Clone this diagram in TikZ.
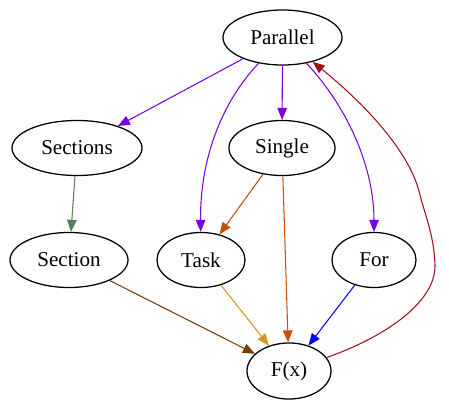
\documentclass[tikz,border=0pt]{standalone}
\usepackage{fontspec}
\setmainfont{Liberation Serif}
\usetikzlibrary{arrows.meta,shapes.geometric}
\definecolor{violetP}{HTML}{7A00E0}
\definecolor{redB}{HTML}{A0101A}
\definecolor{orangeS}{HTML}{C8500A}
\definecolor{goldT}{HTML}{D4961E}
\definecolor{brownS}{HTML}{7A3A00}
\definecolor{greenS}{HTML}{5A7D5A}

\begin{document}
\begin{tikzpicture}[
  x=0.025cm, y=0.025cm,
  nd/.style={ellipse, draw=black, line width=0.9pt, inner sep=0pt, minimum height=1.375cm, font=\fontsize{15}{18}\selectfont},
  ed/.style={line width=0.75pt, -{Triangle[length=0.3cm, width=0.24cm]}}
]
\useasboundingbox (0,0) rectangle (449,-402);
% nodes
\node[nd, minimum width=2.975cm] (par) at (282.5,-37.5) {Parallel};
\node[nd, minimum width=3.25cm] (secs) at (77,-148) {Sections};
\node[nd, minimum width=2.65cm] (single) at (282,-148) {Single};
\node[nd, minimum width=2.95cm] (sec) at (69,-260) {Section};
\node[nd, minimum width=2.2cm] (task) at (201,-260) {Task};
\node[nd, minimum width=2.1cm] (for) at (374,-260) {For};
\node[nd, minimum width=2.1cm, minimum height=1.4cm] (fx) at (289,-371) {F(x)};

% from Parallel
\draw[ed, violetP] (par) -- (secs);
\draw[ed, violetP] (par) -- (single);
\draw[ed, violetP] (par) .. controls (215,-110) and (200,-170) .. (task);
\draw[ed, violetP] (par) .. controls (350,-110) and (374,-170) .. (for);

% middle row
\draw[ed, greenS] (secs) -- (sec);
\draw[ed, orangeS] (single) -- (task);
\draw[ed, orangeS] (single) -- (fx);

% into F(x)
\draw[ed, brownS] (sec) -- (fx);
\draw[ed, goldT] (task) -- (fx);
\draw[ed, blue] (for) -- (fx);

% back to Parallel
\draw[ed, redB] (fx) .. controls (390,-335) and (436,-300) .. (435,-265)
  .. controls (434,-235) and (425,-215) .. (420,-195)
  .. controls (410,-150) and (360,-100) .. (par);
\end{tikzpicture}
\end{document}
